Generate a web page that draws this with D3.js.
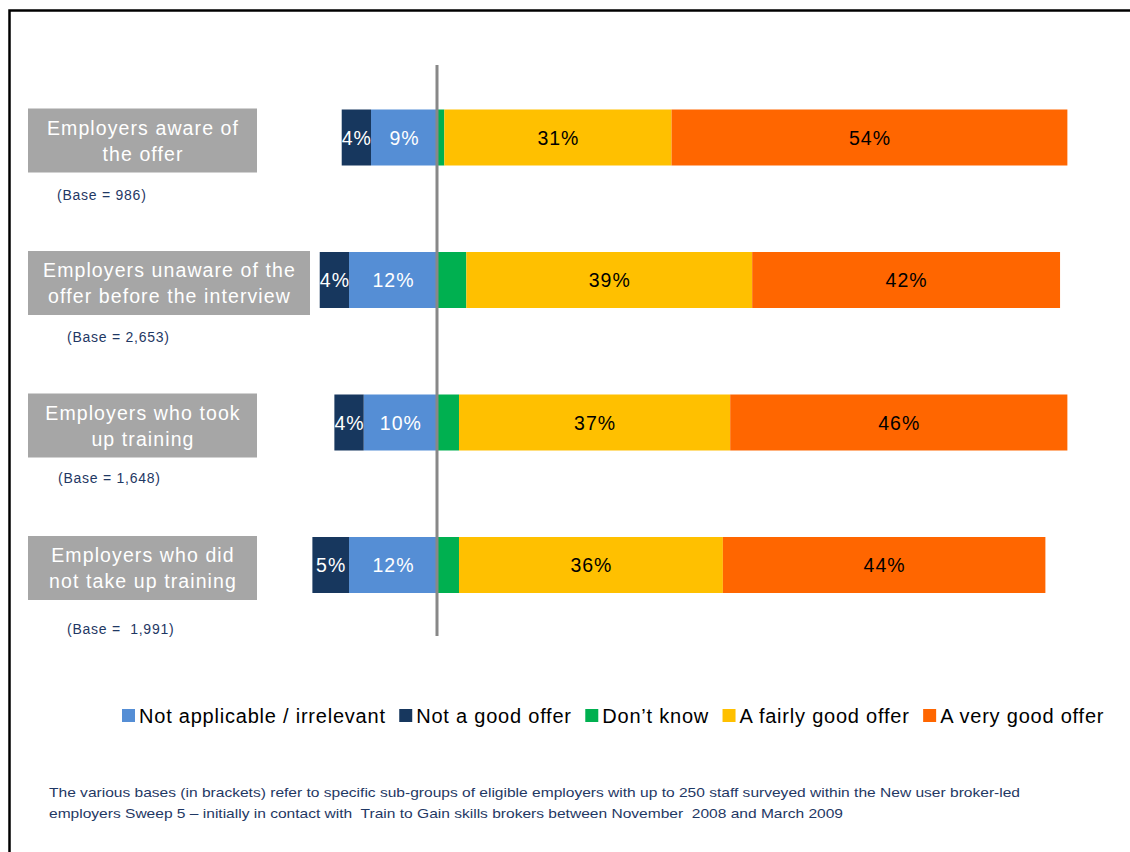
<!DOCTYPE html>
<html>
<head>
<meta charset="utf-8">
<script src="https://cdn.jsdelivr.net/npm/d3@7/dist/d3.min.js"></script>
<style>
  html, body { margin: 0; padding: 0; background: #fff; }
  svg { display: block; font-family: "Liberation Sans", Arial, sans-serif; }
  text { white-space: pre; }
</style>
</head>
<body>
<svg id="chart" width="1130" height="852"></svg>
<script>
// Groups of employers (each label split into two lines)
const groups = [
  ["Employers aware of", "the offer"],
  ["Employers unaware of the", "offer before the interview"],
  ["Employers who took", "up training"],
  ["Employers who did", "not take up training"]
];
const bases = ["(Base = 986)", "(Base = 2,653)", "(Base = 1,648)", "(Base =  1,991)"];

// Answer shares, in percent
const notApplicable = [9, 12, 10, 12];
const notGood       = [4, 4, 4, 5];
const dontKnow      = [1, 4, 3, 3];
const fairlyGood    = [31, 39, 37, 36];
const veryGood      = [54, 42, 46, 44];

const seriesNames = ["Not applicable / irrelevant", "Not a good offer", "Don\u2019t know", "A fairly good offer", "A very good offer"];
const seriesColors = ["#558ED5", "#17375E", "#00B050", "#FFC000", "#FF6600"];
const labelColors  = ["#ffffff", "#ffffff", null, "#000000", "#000000"];

const footnote = [
  "The various bases (in brackets) refer to specific sub-groups of eligible employers with up to 250 staff surveyed within the New user broker-led",
  "employers Sweep 5 \u2013 initially in contact with  Train to Gain skills brokers between November  2008 and March 2009"
];

const svg = d3.select("#chart");

// Outer frame
svg.append("rect")
  .attr("x", 9.5).attr("y", 10.5)
  .attr("width", 1300).attr("height", 1000)
  .attr("fill", "none").attr("stroke", "#000").attr("stroke-width", 2.5);

// Negative side: "not applicable" nearest zero, then "not a good offer"
const keys = ["na", "ng", "dk", "fg", "vg"];
const rows = groups.map((g, i) => ({
  idx: i,
  na: -notApplicable[i],
  ng: -notGood[i],
  dk: dontKnow[i],
  fg: fairlyGood[i],
  vg: veryGood[i]
}));
const stacked = d3.stack().keys(keys).offset(d3.stackOffsetDiverging)(rows);

const x = d3.scaleLinear().domain([-20, 90]).range([290.4, 1096.7]);
const bandStep = 142.5;
const y = d3.scaleBand()
  .domain(d3.range(groups.length))
  .range([137.5 - bandStep / 2, 137.5 - bandStep / 2 + bandStep * groups.length])
  .paddingInner(0.607).paddingOuter(0.3035);

const layers = svg.append("g").selectAll("g")
  .data(stacked)
  .join("g")
  .attr("fill", (d, i) => seriesColors[i]);

layers.selectAll("rect")
  .data(d => d)
  .join("rect")
  .attr("x", d => x(Math.min(d[0], d[1])))
  .attr("width", d => Math.abs(x(d[1]) - x(d[0])))
  .attr("y", d => y(d.data.idx))
  .attr("height", y.bandwidth());

// Value labels inside segments
stacked.forEach((layer, li) => {
  if (!labelColors[li]) return;
  svg.append("g").selectAll("text")
    .data(layer)
    .join("text")
    .attr("x", d => (x(d[0]) + x(d[1])) / 2 + 0.5)
    .attr("y", d => y(d.data.idx) + y.bandwidth() / 2)
    .attr("dy", "0.36em")
    .attr("text-anchor", "middle")
    .attr("font-size", 19.5)
    .attr("letter-spacing", 1)
    .attr("fill", labelColors[li])
    .text(d => Math.abs(d.data[keys[li]]) + "%");
});

// Zero line
svg.append("line")
  .attr("x1", x(0)).attr("x2", x(0))
  .attr("y1", 65).attr("y2", 636)
  .attr("stroke", "#888888").attr("stroke-width", 3);

// Group label boxes
const boxWidths = [229, 282, 229, 229];
const labelG = svg.append("g");
groups.forEach((lines, i) => {
  const cy = y(i) + y.bandwidth() / 2 + 3;
  const w = boxWidths[i];
  labelG.append("rect")
    .attr("x", 28).attr("y", cy - 32)
    .attr("width", w).attr("height", 64)
    .attr("fill", "#A6A6A6");
  lines.forEach((line, j) => {
    labelG.append("text")
      .attr("x", 28 + w / 2 + 0.5)
      .attr("y", cy - 13 + j * 26)
      .attr("dy", "0.36em")
      .attr("text-anchor", "middle")
      .attr("font-size", 19.5)
      .attr("letter-spacing", 1.1)
      .attr("fill", "#ffffff")
      .text(line);
  });
});

// Base sizes under each label
const baseX = [57, 67, 58, 67];
const baseY = [195, 337, 478, 629];
svg.append("g").selectAll("text")
  .data(bases)
  .join("text")
  .attr("x", (d, i) => baseX[i])
  .attr("y", (d, i) => baseY[i])
  .attr("dy", "0.36em")
  .attr("font-size", 14)
  .attr("letter-spacing", 0.75)
  .attr("fill", "#1F3864")
  .text(d => d);

// Legend
const legend = svg.append("g");
let lx = 122;
const ly = 716;
seriesNames.forEach((name, i) => {
  legend.append("rect")
    .attr("x", lx).attr("y", ly - 7)
    .attr("width", 13).attr("height", 13)
    .attr("fill", seriesColors[i]);
  const t = legend.append("text")
    .attr("x", lx + 17).attr("y", ly)
    .attr("dy", "0.36em")
    .attr("font-size", 20)
    .attr("letter-spacing", 0.78)
    .attr("fill", "#000")
    .text(name);
  lx = lx + 17 + t.node().getComputedTextLength() + 13.5;
});

// Footnote
const footLengths = [971, 794];
svg.append("g").selectAll("text")
  .data(footnote)
  .join("text")
  .attr("x", 49)
  .attr("y", (d, i) => 797 + i * 21)
  .attr("font-size", 13)
  .attr("fill", "#1F3864")
  .attr("textLength", (d, i) => footLengths[i])
  .attr("lengthAdjust", "spacingAndGlyphs")
  .text(d => d);
</script>
</body>
</html>
